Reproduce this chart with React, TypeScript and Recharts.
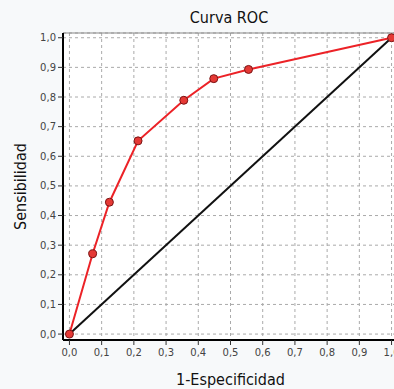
import {
  CartesianGrid,
  Line,
  LineChart,
  ReferenceLine,
  XAxis,
  YAxis,
} from 'recharts';

// ROC curve points
const fpr = [0, 0.072, 0.124, 0.213, 0.355, 0.448, 0.556, 1.0];
const tpr = [0, 0.271, 0.445, 0.652, 0.789, 0.862, 0.893, 1.0];
const diagX = [0, 1];
const axisTicks = [0, 0.1, 0.2, 0.3, 0.4, 0.5, 0.6, 0.7, 0.8, 0.9, 1.0];

const title = 'Curva ROC';
const xLabel = '1-Especificidad';
const yLabel = 'Sensibilidad';

const X_DOMAIN: [number, number] = [-0.02, 1.02];
const Y_DOMAIN: [number, number] = [-0.02, 1.016];

const roc = fpr.map((x, i) => ({ x, y: tpr[i] }));
const diag = diagX.map((x) => ({ x, y: x }));

const fmt = (v: number) => v.toFixed(1).replace('.', ',');
const labelFont = '"Liberation Sans Narrow", "DejaVu Sans Condensed", sans-serif';
const tickStyle = { fill: '#444', fontSize: 10, fontFamily: '"DejaVu Sans", sans-serif' };

export default function App() {
  return (
    <div
      style={{
        position: 'absolute',
        left: 0,
        top: 0,
        width: 394,
        height: 389,
        overflow: 'hidden',
        background: '#f7f9fa',
      }}
    >
      <div
        style={{
          position: 'absolute',
          left: 63,
          top: 8,
          width: 332,
          lineHeight: '20px',
          textAlign: 'center',
          fontFamily: labelFont,
          fontSize: 16,
          color: '#111',
        }}
      >
        {title}
      </div>
      <LineChart
        width={398}
        height={389}
        margin={{ top: 33, right: 0, bottom: 0, left: 0 }}
      >
        <CartesianGrid
          stroke="#aaa"
          strokeDasharray="3 3"
          fill="#fff"
          verticalPoints={undefined}
        />
        <XAxis
          type="number"
          dataKey="x"
          domain={X_DOMAIN}
          ticks={axisTicks}
          tickFormatter={fmt}
          allowDataOverflow
          height={49}
          stroke="#000"
          strokeWidth={2}
          tickSize={5}
          tickMargin={4}
          tickLine={{ stroke: '#333', strokeWidth: 1 }}
          tick={tickStyle}
          interval={0}
          label={{
            value: xLabel,
            position: 'insideBottom',
            offset: 4,
            fill: '#111',
            fontSize: 16,
            fontFamily: labelFont,
          }}
        />
        <YAxis
          type="number"
          dataKey="y"
          domain={Y_DOMAIN}
          ticks={axisTicks}
          tickFormatter={fmt}
          allowDataOverflow
          width={63}
          stroke="#000"
          strokeWidth={2}
          tickSize={5}
          tickMargin={2}
          tickLine={{ stroke: '#333', strokeWidth: 1 }}
          tick={tickStyle}
          interval={0}
          label={{
            content: ({ viewBox }: any) => {
              const cy = viewBox.y + viewBox.height / 2;
              return (
                <text
                  x={20}
                  y={cy}
                  transform={`rotate(-90 20 ${cy})`}
                  textAnchor="middle"
                  dominantBaseline="central"
                  fill="#111"
                  fontSize={16}
                  fontFamily={labelFont}
                >
                  {yLabel}
                </text>
              );
            },
          }}
        />
        <ReferenceLine y={Y_DOMAIN[1]} stroke="#888" strokeWidth={1} />
        <Line
          data={diag}
          dataKey="y"
          type="linear"
          stroke="#111"
          strokeWidth={2}
          dot={false}
          activeDot={false}
          isAnimationActive={false}
        />
        <Line
          data={roc}
          dataKey="y"
          type="linear"
          stroke="#ec2227"
          strokeWidth={2}
          dot={{ r: 4, fill: '#e53935', stroke: '#7a1414', strokeWidth: 1 }}
          activeDot={false}
          isAnimationActive={false}
        />
      </LineChart>
    </div>
  );
}
